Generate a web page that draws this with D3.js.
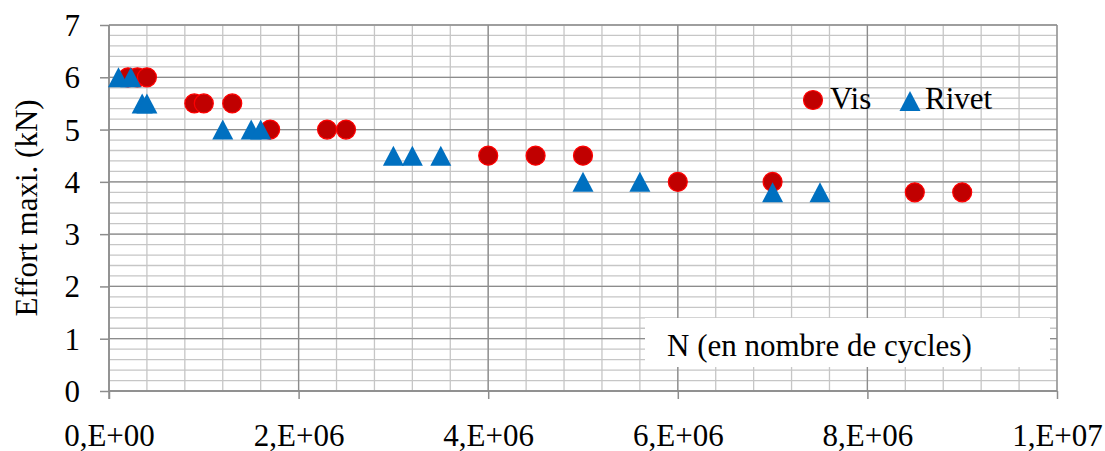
<!DOCTYPE html>
<html><head><meta charset="utf-8">
<script src="https://cdn.jsdelivr.net/npm/d3@7"></script>
<style>body{margin:0;background:#fff}svg{display:block}svg text{font-family:"Liberation Serif","Times New Roman",serif !important;}</style>
</head><body>
<svg id="c" width="1105" height="451"></svg>
<script>
const visN = [0.2e6,0.3e6,0.4e6,0.9e6,1.0e6,1.3e6,1.7e6,2.3e6,2.5e6,4.0e6,4.5e6,5.0e6,6.0e6,7.0e6,8.5e6,9.0e6];
const visF = [6,6,6,5.5,5.5,5.5,5,5,5,4.5,4.5,4.5,4,4,3.8,3.8];
const rivetN = [0.1e6,0.23e6,0.35e6,0.4e6,1.2e6,1.5e6,1.6e6,3.0e6,3.2e6,3.5e6,5.0e6,5.6e6,7.0e6,7.5e6];
const rivetF = [6,6,5.5,5.5,5,5,5,4.5,4.5,4.5,4,4,3.8,3.8];
const xTicks = [0,2e6,4e6,6e6,8e6,1e7];
const xTickLabels = ["0,E+00","2,E+06","4,E+06","6,E+06","8,E+06","1,E+07"];
const yTicks = [0,1,2,3,4,5,6,7];

const svg = d3.select("#c");
const L=109, R=1057, T=25, B=391;
const x = d3.scaleLinear().domain([0,1e7]).range([L,R]);
const y = d3.scaleLinear().domain([0,7]).range([B,T]);
const FS = "31px";

const g = svg.append("g");
g.selectAll(".mx").data(d3.range(0,1e7+1,4e5)).join("line")
 .attr("x1",d=>x(d)).attr("x2",d=>x(d)).attr("y1",T).attr("y2",B)
 .attr("stroke","#c6c6c6").attr("stroke-width",1.3);
g.selectAll(".my").data(d3.range(0,36).map(i=>i*0.2)).join("line")
 .attr("x1",L).attr("x2",R).attr("y1",d=>y(d)).attr("y2",d=>y(d))
 .attr("stroke","#c6c6c6").attr("stroke-width",1.3);
g.selectAll(".Mx").data(xTicks).join("line")
 .attr("x1",d=>x(d)).attr("x2",d=>x(d)).attr("y1",T).attr("y2",B)
 .attr("stroke","#8c8c8c").attr("stroke-width",1.3);
g.selectAll(".My").data(yTicks).join("line")
 .attr("x1",L).attr("x2",R).attr("y1",d=>y(d)).attr("y2",d=>y(d))
 .attr("stroke","#8c8c8c").attr("stroke-width",1.3);

const xa = svg.append("g").attr("transform",`translate(0,${B})`)
 .call(d3.axisBottom(x).tickValues(xTicks).tickFormat((d,i)=>xTickLabels[i]).tickSize(8));
const ya = svg.append("g").attr("transform",`translate(${L},0)`)
 .call(d3.axisLeft(y).tickValues(yTicks).tickFormat(d3.format("d")).tickSize(9).tickPadding(20));
[xa,ya].forEach(a=>{
  a.attr("font-family",null).attr("font-size",null);
  a.selectAll("path,line").attr("stroke","#8c8c8c").attr("stroke-width",1.5);
  a.selectAll("text").style("font-size",FS).attr("fill","#000");
});
xa.selectAll("text").attr("y",55).attr("dy",null);
ya.selectAll("text").attr("dy","0.34em");
ya.select(".domain").attr("d",`M0,${B+8}V${T}`);
xa.select(".domain").attr("d",`M${L},0H${R}`);

svg.append("rect").attr("x",645).attr("y",318).attr("width",405).attr("height",49).attr("fill","#fff");
svg.append("text").attr("x",667).attr("y",356).style("font-size",FS)
 .text("N (en nombre de cycles)");

svg.append("text").attr("transform",`translate(37,208) rotate(-90)`)
 .attr("text-anchor","middle").style("font-size",FS).text("Effort maxi. (kN)");

const triType = {draw(ctx){ctx.moveTo(0,-10);ctx.lineTo(10.5,10);ctx.lineTo(-10.5,10);ctx.closePath();}};
const tri = d3.symbol().type(triType);
svg.append("g").selectAll("circle").data(visN).join("circle")
 .attr("cx",d=>x(d)).attr("cy",(d,i)=>y(visF[i])).attr("r",9.5)
 .attr("fill","#c00000").attr("stroke","#ff0000").attr("stroke-width",1.2);
svg.append("g").selectAll("path").data(rivetN).join("path")
 .attr("d",tri).attr("transform",(d,i)=>`translate(${x(d)},${y(rivetF[i])})`)
 .attr("fill","#0070c0");

const lg = svg.append("g");
lg.append("circle").attr("cx",813).attr("cy",100).attr("r",9.5).attr("fill","#c00000").attr("stroke","#ff0000").attr("stroke-width",1.2);
lg.append("text").attr("x",830).attr("y",109).style("font-size",FS).text("Vis");
lg.append("path").attr("d",tri).attr("transform","translate(910,101)").attr("fill","#0070c0");
lg.append("text").attr("x",925).attr("y",109).style("font-size",FS).text("Rivet");
</script>
</body></html>
